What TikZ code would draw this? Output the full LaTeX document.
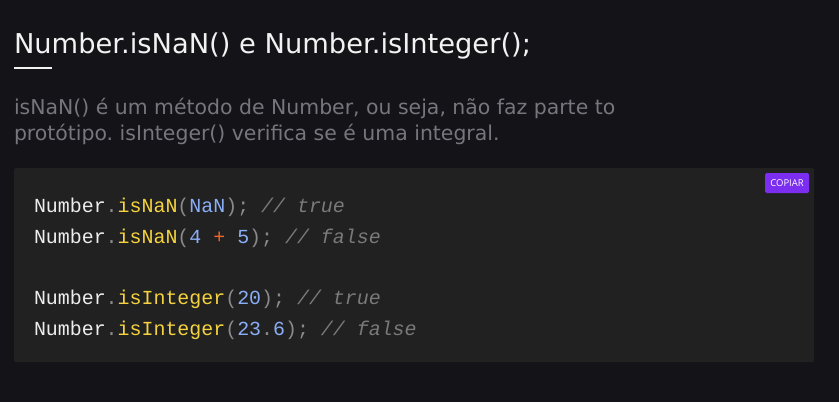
\documentclass[tikz,border=0pt]{standalone}
\usepackage{fontspec}
\setmainfont{DejaVu Sans}
\newfontfamily\codefont{Liberation Mono}
\newfontfamily\btnfont{Open Sans}
\frenchspacing
\definecolor{bg}{HTML}{141318}
\definecolor{codebg}{HTML}{212121}
\definecolor{titlec}{HTML}{F2F2F2}
\definecolor{parac}{HTML}{77767C}
\definecolor{cwhite}{HTML}{EDEDED}
\definecolor{cgray}{HTML}{8A8A8A}
\definecolor{cyellow}{HTML}{F5D33F}
\definecolor{cblue}{HTML}{8AAEF5}
\definecolor{corange}{HTML}{F2662A}
\definecolor{ccomment}{HTML}{7A7A7A}
\definecolor{btnc}{HTML}{7B2DF0}
\newcommand{\Nb}{\textcolor{cwhite}{Number}\textcolor{cgray}{.}}
\newcommand{\Fn}[1]{\textcolor{cyellow}{#1}}
\newcommand{\Pn}[1]{\textcolor{cgray}{#1}}
\newcommand{\Vl}[1]{\textcolor{cblue}{#1}}
\newcommand{\Cm}[1]{\textcolor{ccomment}{\itshape #1}}
\begin{document}
\begin{tikzpicture}[x=1bp,y=-1bp,
  txt/.style={anchor=base west,inner sep=0pt,outer sep=0pt},
  para/.style={txt,text=parac,font=\fontsize{20.5}{26}\selectfont},
  codeline/.style={txt,font=\codefont\fontsize{20}{24}\selectfont}]
\fill[bg] (0,0) rectangle (839,402);
\useasboundingbox (0,0) rectangle (839,402);
\node[txt,text=titlec,font=\fontsize{27.4}{32}\selectfont] (title) at (14,53.5) {Number.isNaN() e Number.isInteger();};
\draw[titlec,line width=2.3bp] (14,67.7) -- (52,67.7);
\node[para] (p1) at (14,114) {isNaN() é um método de Number, ou seja, não faz parte to};
\node[para] (p2) at (14,140) {protótipo. isInteger() verifica se é uma integral.};
\fill[codebg,rounded corners=2bp] (14,168) rectangle (814,362);
\node[fill=btnc,rounded corners=1.5bp,minimum width=44bp,minimum height=20bp,inner sep=0pt,text=white,font=\btnfont\fontsize{9.5}{11}\selectfont] (btn) at (787,183) {COPIAR};
\node[codeline] (l1) at (34,212) {\Nb\Fn{isNaN}\Pn{(}\Vl{NaN}\Pn{);} \Cm{// true}};
\node[codeline] (l2) at (34,243) {\Nb\Fn{isNaN}\Pn{(}\Vl{4} \textcolor{corange}{+} \Vl{5}\Pn{);} \Cm{// false}};
\node[codeline] (l3) at (34,304) {\Nb\Fn{isInteger}\Pn{(}\Vl{20}\Pn{);} \Cm{// true}};
\node[codeline] (l4) at (34,335) {\Nb\Fn{isInteger}\Pn{(}\Vl{23}\Pn{.}\Vl{6}\Pn{);} \Cm{// false}};
\end{tikzpicture}
\end{document}
